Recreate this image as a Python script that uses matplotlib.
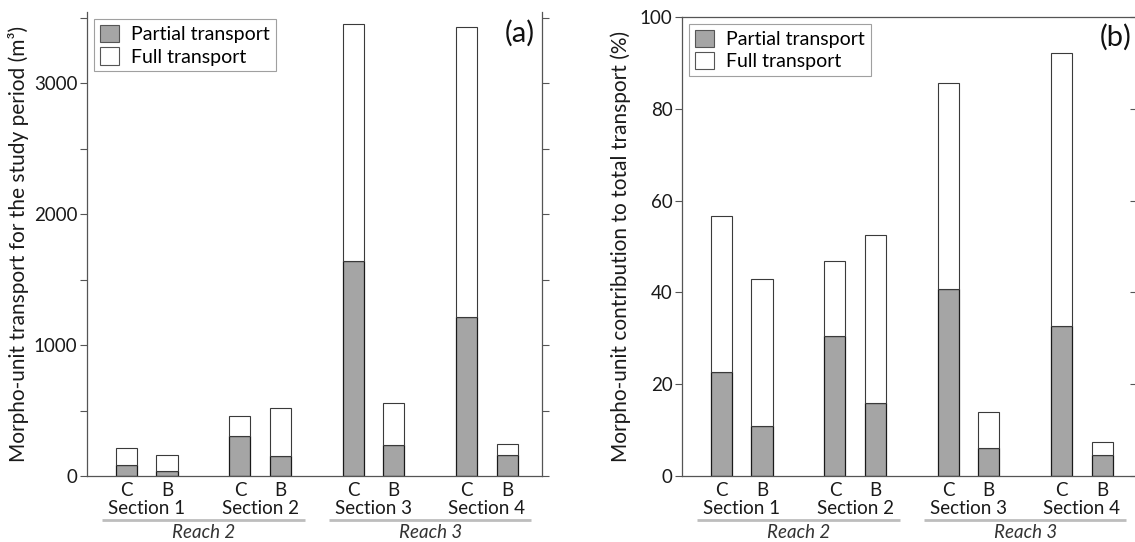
import matplotlib
matplotlib.use("Agg")
import matplotlib.pyplot as plt
import matplotlib.transforms as mtransforms
from matplotlib.ticker import MultipleLocator

plt.rcParams['font.family'] = ['Lato', 'DejaVu Sans']

# ---- data ----
sections = ["Section 1", "Section 2", "Section 3", "Section 4"]
units = ["C", "B"]
reaches = ["Reach 2", "Reach 3"]
reach_sections = [[0, 1], [2, 3]]

# panel (a): volumes (m3), order C,B per section
vol_partial = [84, 38, 305, 155, 1644, 239, 1214, 158]
vol_total = [213, 157, 460, 517, 3453, 560, 3427, 247]
# panel (b): percent contribution
pct_partial = [22.6, 11.0, 30.4, 16.0, 40.7, 6.0, 32.6, 4.5]
pct_total = [56.7, 43.0, 46.8, 52.4, 85.7, 14.0, 92.2, 7.3]

W, H = 1135, 542
fig = plt.figure(figsize=(W / 100, H / 100), dpi=100)

GROUP = 2.8
xs = []
for g in range(len(sections)):
    xs += [g * GROUP, g * GROUP + 1]
XLIM = (-0.97, 10.27)
UNITPX = 40.5
AXW = (XLIM[1] - XLIM[0]) * UNITPX

gray_fill = "#a5a5a5"
spine_col = "#555555"
txt_col = "#1a1a1a"
FS = 13.5
FS_LEG = 14
FS_LAB = 15


def px_axes(left, top, bottom):
    return fig.add_axes([left / W, (H - bottom) / H, AXW / W, (bottom - top) / H])


def draw(ax, partial, total, ylabel, lab_x):
    full = [t - p for t, p in zip(total, partial)]
    ax.bar(xs, partial, width=0.52, color=gray_fill, edgecolor="#1a1a1a", linewidth=0.9,
           label="Partial transport", zorder=2)
    ax.bar(xs, full, bottom=partial, width=0.52, color="white", edgecolor="#3a3a3a",
           linewidth=0.8, label="Full transport", zorder=2)
    ax.set_xlim(*XLIM)
    ax.set_xticks([])
    for s in ["left", "bottom", "right", "top"]:
        ax.spines[s].set_color(spine_col)
        ax.spines[s].set_linewidth(0.9)
    ax.tick_params(axis="y", which="both", direction="out", length=5, width=0.8,
                   color=spine_col, labelsize=FS, labelcolor=txt_col, pad=2)
    ax.set_ylabel(ylabel, fontsize=FS_LAB, color=txt_col, va="center")
    ax.yaxis.set_label_coords(lab_x, 0.5)

    base = mtransforms.blended_transform_factory(ax.transData, ax.transAxes)

    def off(px):
        return base + mtransforms.ScaledTranslation(0, -px / 100, fig.dpi_scale_trans)

    for i, x in enumerate(xs):
        ax.text(x, 0, units[i % 2], transform=off(15), ha="center", va="center",
                fontsize=FS, color=txt_col)
    for g, s in enumerate(sections):
        ax.text(g * GROUP + 0.5, 0, s, transform=off(33), ha="center", va="center",
                fontsize=FS, color=txt_col)
    for r, secs in zip(reaches, reach_sections):
        x0 = secs[0] * GROUP - 0.6
        x1 = secs[-1] * GROUP + 1 + 0.6
        ax.plot([x0, x1], [0, 0], transform=off(43.5), color="#bdbdbd", lw=2,
                clip_on=False, solid_capstyle="butt")
        ax.text((x0 + x1) / 2, 0, r, transform=off(57), ha="center", va="center",
                fontsize=FS, style="italic", color="#333333")

    leg = ax.legend(loc="upper left", fontsize=FS_LEG, frameon=True, fancybox=False,
                    edgecolor="#888888", handlelength=1.0, handleheight=1.0,
                    handletextpad=0.6, borderpad=0.3, labelspacing=0.2,
                    borderaxespad=0.35)
    leg.get_frame().set_linewidth(0.8)
    for h in leg.legend_handles:
        h.set_edgecolor("#555555")
        h.set_linewidth(0.8)
    return ax


# panel (a)
axa = px_axes(87.2, 12.3, 476)
axa.set_ylim(0, 3540)
axa.yaxis.set_major_locator(MultipleLocator(1000))
axa.yaxis.set_minor_locator(MultipleLocator(500))
draw(axa, vol_partial, vol_total,
     "Morpho-unit transport for the study period (m³)", -0.152)
axa.spines["top"].set_visible(False)
axa.tick_params(axis="y", which="both", right=True, labelright=False)
axa.text(535, H - 33, "(a)", transform=mtransforms.IdentityTransform(),
         ha="right", va="center", fontsize=21, color="#111111")

# panel (b)
axb = px_axes(682.2, 17, 476)
axb.set_ylim(0, 100)
axb.yaxis.set_major_locator(MultipleLocator(20))
draw(axb, pct_partial, pct_total,
     "Morpho-unit contribution to total transport (%)", -0.1345)
axr = axb.twinx()
axr.set_ylim(0, 100)
axr.yaxis.set_major_locator(MultipleLocator(20))
axr.tick_params(axis="y", direction="in", length=5, width=0.8, color=spine_col,
                labelright=False)
for s in axr.spines.values():
    s.set_visible(False)
axb.text(1100, H - 37, "(b)", transform=mtransforms.IdentityTransform(),
         ha="left", va="center", fontsize=21, color="#111111")

fig.savefig("out.png", dpi=100)
